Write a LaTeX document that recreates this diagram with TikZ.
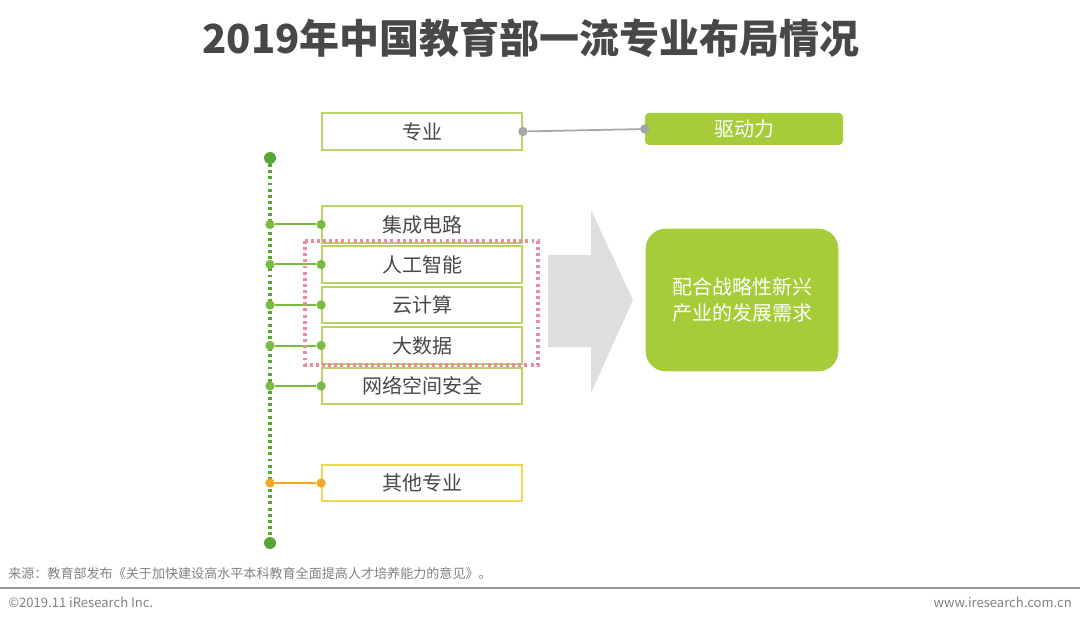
\documentclass[tikz,border=0pt]{standalone}
\usepackage{fontspec}
\setmainfont{Noto Sans CJK SC}
\usetikzlibrary{positioning}
\definecolor{limeLine}{RGB}{184,212,104}
\definecolor{limeFill}{RGB}{166,204,57}
\definecolor{spineGreen}{RGB}{88,166,52}
\definecolor{linkGreen}{RGB}{124,187,66}
\definecolor{otherGold}{RGB}{244,168,35}
\definecolor{otherLine}{RGB}{242,214,80}
\definecolor{pinkDot}{RGB}{232,140,160}
\definecolor{textGray}{RGB}{72,72,72}
\definecolor{arrowGray}{RGB}{222,222,222}

\begin{document}
\begin{tikzpicture}[x=0.75pt,y=-0.75pt,
  majorbox/.style={draw=limeLine,line width=1.4pt,fill=white,minimum width=150pt,minimum height=27.5pt,inner sep=0pt,text=textGray,font=\fontsize{15}{18}\selectfont},
  otherbox/.style={majorbox,draw=otherLine},
  gdot/.style={circle,fill=linkGreen,inner sep=0pt,minimum size=7pt},
  odot/.style={gdot,fill=otherGold},
  capdot/.style={circle,fill=spineGreen,inner sep=0pt,minimum size=9pt},
  graydot/.style={circle,fill=gray!70,inner sep=0pt,minimum size=7pt},
  link/.style={linkGreen,line width=1.5pt}]
\useasboundingbox (0,0) rectangle (1080,623);

% title
\node[text=textGray,font=\fontsize{30}{34}\bfseries\selectfont] (title) at (531,38) {2019年中国教育部一流专业布局情况};

% header row
\node[majorbox] (major) at (422,131.5) {专业};
\node[fill=limeFill,rounded corners=3pt,minimum width=148.5pt,minimum height=24pt,inner sep=0pt,text=white,font=\fontsize{15}{18}\selectfont] (drive) at (744,129) {驱动力};
\node[graydot] (gm) at (major.east) {};
\node[graydot] (gd) at (drive.west) {};
\draw[gray!70,line width=1.3pt] (gm) -- (gd);

% spine
\draw[spineGreen,line width=2.6pt,dash pattern=on 2.2pt off 2.4pt] (270,158) -- (270,543);
\node[capdot] (top) at (270,158) {};
\node[capdot] (bot) at (270,543) {};

% majors
\node[majorbox] (ic) at (422,224.5) {集成电路};
\node[majorbox] (ai) at (422,264.5) {人工智能};
\node[majorbox] (cloud) at (422,305) {云计算};
\node[majorbox] (data) at (422,345.5) {大数据};
\node[majorbox] (cyber) at (422,386) {网络空间安全};
\node[otherbox] (other) at (422,483) {其他专业};

\foreach \b in {ic,ai,cloud,data,cyber}{
  \node[gdot] (s-\b) at (270,0 |- \b) {};
  \node[gdot] (e-\b) at (\b.west) {};
  \draw[link] (s-\b) -- (e-\b);
}
\node[odot] (s-other) at (270,0 |- other) {};
\node[odot] (e-other) at (other.west) {};
\draw[otherGold,line width=1.5pt] (s-other) -- (e-other);

% highlighted group
\draw[pinkDot,line width=2.4pt,dash pattern=on 2.2pt off 2.4pt] (305,241) rectangle (538,365);

% arrow
\fill[arrowGray] (548,255) -- (591,255) -- (591,210) -- (633,300) -- (591,393) -- (591,347) -- (548,347) -- cycle;

% result
\node[fill=limeFill,rounded corners=15pt,minimum width=144.5pt,minimum height=107pt,inner sep=0pt,text=white,align=center,font=\fontsize{15}{19.5}\selectfont] (need) at (742,300) {配合战略性新兴\\产业的发展需求};

% footer
\node[anchor=west,text=gray,inner sep=0pt,font=\fontsize{9.8}{12}\selectfont] (src) at (8,573) {来源：教育部发布《关于加快建设高水平本科教育全面提高人才培养能力的意见》。};
\coordinate (rl) at (0,588);
\coordinate (rr) at (1080,588);
\draw[gray!80,line width=1pt] (rl) -- (rr);
\node[anchor=west,text=gray,inner sep=0pt,font=\fontsize{9.8}{12}\selectfont] (copy) at (8,602) {©2019.11 iResearch Inc.};
\node[anchor=east,text=gray,inner sep=0pt,font=\fontsize{9.8}{12}\selectfont] (web) at (1072,602) {www.iresearch.com.cn};
\end{tikzpicture}
\end{document}
